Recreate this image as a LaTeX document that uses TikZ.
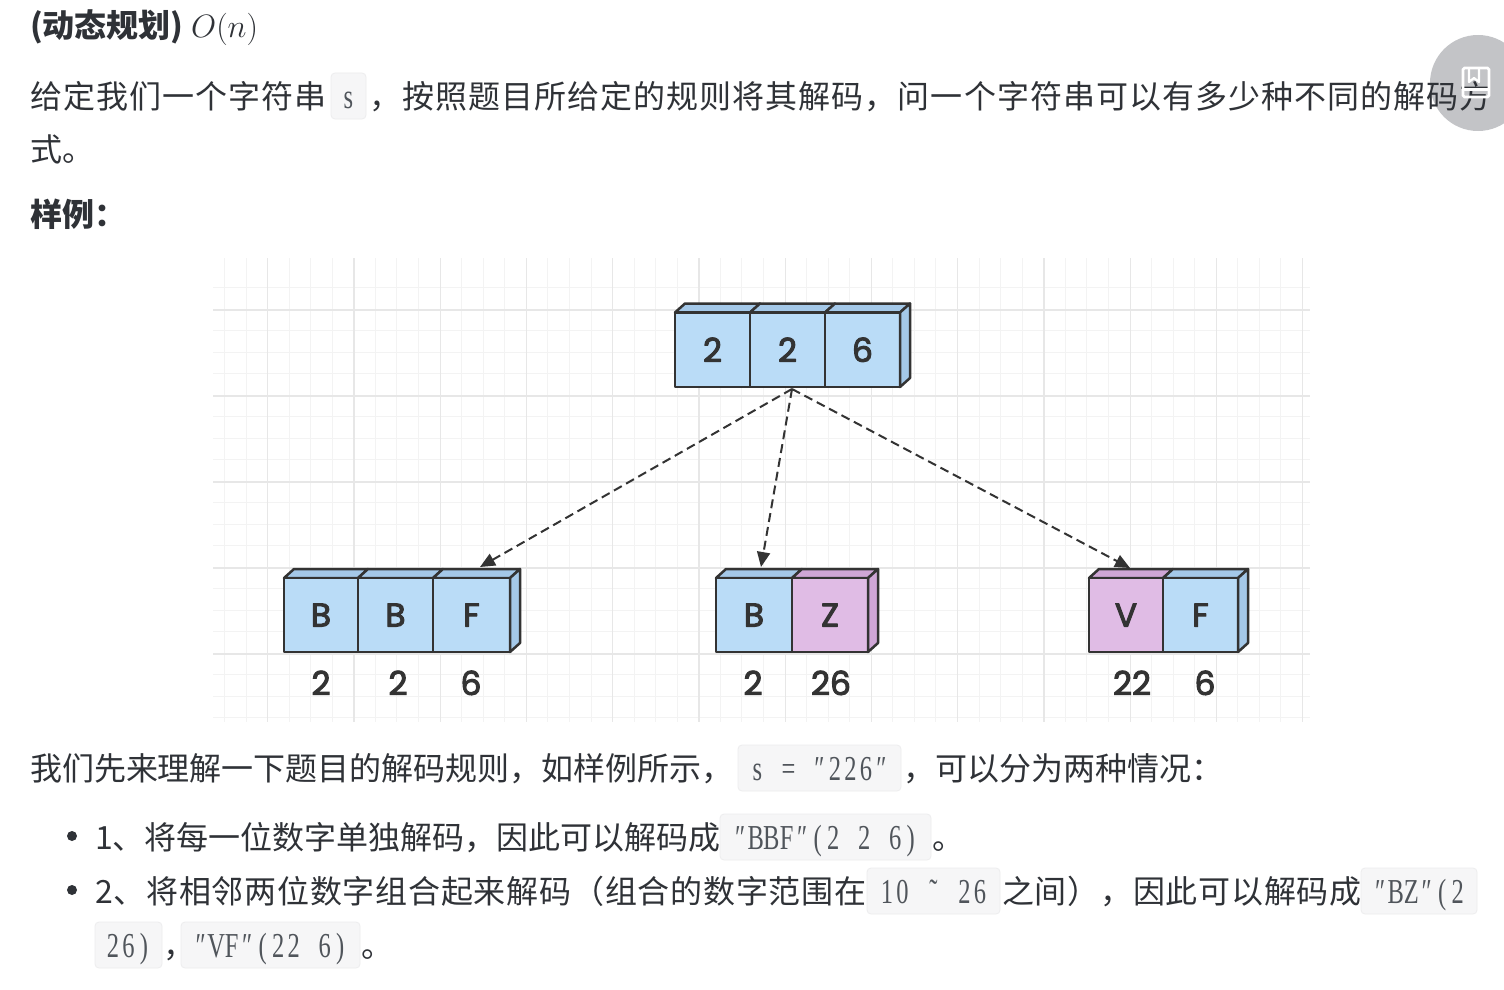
\documentclass[tikz,border=0pt]{standalone}
\usepackage{graphicx}
\usepackage{fontspec}
\setmainfont{Noto Sans CJK SC}
\newfontfamily\cjkls{Noto Sans CJK SC}[LetterSpace=3.3]
\newfontfamily\cjklsb{Noto Sans CJK SC}[LetterSpace=2.4]
\newfontfamily\codefont{Liberation Serif}[FakeStretch=0.7]
\newfontfamily\handfont{Poppins}[FakeBold=3]
\usetikzlibrary{arrows.meta}
\definecolor{txtc}{HTML}{2F3237}
\definecolor{codec}{HTML}{50555B}
\definecolor{codebg}{HTML}{F6F6F7}
\definecolor{codeline}{HTML}{EDEDEE}
\definecolor{blu}{HTML}{BADCF7}
\definecolor{bluD}{HTML}{A4C8E8}
\definecolor{pnk}{HTML}{E0BCE5}
\definecolor{pnkD}{HTML}{CFA6D6}
\definecolor{ink}{HTML}{333333}
\definecolor{gridminor}{HTML}{F3F3F3}
\definecolor{gridmajor}{HTML}{E7E7E7}
\definecolor{fab}{HTML}{C3C4C7}
\newcommand\m[1]{\makebox[15.5pt]{#1}}
\newcommand\ms{\hspace*{15.5pt}}
\tikzset{
  txt/.style={anchor=base west, inner sep=0pt, outer sep=0pt, text=txtc, font=\fontsize{32}{38}\selectfont},
  txtb/.style={txt, font=\bfseries\fontsize{32}{38}\selectfont},
  txtls/.style={txt, font=\cjkls\fontsize{32}{38}\selectfont},
  txtlsb/.style={txt, font=\cjklsb\fontsize{32}{38}\selectfont},
  codebox/.style={draw=codeline, fill=codebg, rounded corners=4pt, line width=0.8pt, inner sep=0pt},
  codetext/.style={anchor=base, inner sep=0pt, text=codec, font=\codefont\fontsize{35}{40}\selectfont},
  cell/.style={draw=ink, line width=2.5pt, inner sep=0pt, text=ink, font=\handfont\fontsize{33}{38}\selectfont, line join=round},
  face/.style={draw=ink, line width=2.5pt, line join=round},
  lbl/.style={anchor=base, inner sep=0pt, text=ink, font=\handfont\fontsize{33}{38}\selectfont},
  dasharrow/.style={draw=ink, line width=2pt, dash pattern=on 9pt off 5pt, -{Triangle[length=15pt,width=13pt]}},
  bulletdot/.style={circle, fill=txtc, inner sep=0pt, minimum size=10pt},
}
\newcommand\cbox[5]{%
  \node[codebox, minimum width={#3-#2}, minimum height=46pt] (#1) at ({(#2+#3)/2},{#4-12}) {};
  \node[codetext] (#1t) at ({(#2+#3)/2},#4) {#5};}
\newcommand\mkcell[8]{%
  \path[face, fill=#7] (#2,#4) -- (#2+10,#4-9) -- (#3+10,#4-9) -- (#3,#4) -- cycle;
  \node[cell, fill=#6, minimum width={#3-#2}, minimum height={#5-#4}] (#1) at ({(#2+#3)/2},{(#4+#5)/2}) {#8};}
\newcommand\mkside[4]{%
  \path[face, fill=#4] (#1,#2) -- (#1+10,#2-9) -- (#1+10,#3-9) -- (#1,#3) -- cycle;}
\begin{document}
\begin{tikzpicture}[x=1pt, y=-1pt]
\useasboundingbox (0,0) rectangle (1504,990);
\fill[white] (0,0) rectangle (1504,990);
% grid
\foreach \i in {0,...,50}{\pgfmathsetmacro\gx{224.5+21.56*\i}\draw[gridminor, line width=1pt] (\gx,258) -- (\gx,722);}
\foreach \j in {0,...,20}{\pgfmathsetmacro\gy{287.7+21.5*\j}\draw[gridminor, line width=1pt] (213,\gy) -- (1310,\gy);}
\foreach \i in {0,...,12}{\pgfmathsetmacro\gx{267.7+86.25*\i}\draw[gridmajor, line width=1.4pt] (\gx,258) -- (\gx,722);}
\foreach \j in {0,...,4}{\pgfmathsetmacro\gy{310+86*\j}\draw[gridmajor, line width=1.4pt] (213,\gy) -- (1310,\gy);}
% floating button
\fill[fab] (1478,83) circle[radius=48pt];
% text
\node[txtb] (title) at (30,38) {(动态规划)};
\node[anchor=base west, inner sep=0pt, text=txtc] (bigO) at (191,38) {\scalebox{1.3}{\fontsize{24.88}{30}\selectfont $O(n)$}};
\node[txtls] (l1a) at (30,108) {给定我们一个字符串};
\cbox{cs}{331}{366}{108}{\m{s}}
\node[txtls] (l1b) at (369,108) {，按照题目所给定的规则将其解码，问一个字符串可以有多少种不同的解码方};
\node[txt] (l2) at (30,161) {式。};
\node[txtb] (l3) at (30,226) {样例：};
\node[txt] (l4a) at (30,780) {我们先来理解一下题目的解码规则，如样例所示，};
\cbox{cs2}{738}{901}{780}{\m{s}\ms\m{=}\ms\m{″}\m{2}\m{2}\m{6}\m{″}}
\node[txt] (l4b) at (903,780) {，可以分为两种情况：};
\node[bulletdot] (d1) at (72,836) {};
\node[txt] (b1) at (95,849) {1、将每一位数字单独解码，因此可以解码成};
\cbox{cb1}{720}{931}{849}{\m{″}\m{B}\m{B}\m{F}\m{″}\m{(}\m{2}\ms\m{2}\ms\m{6}\m{)}}
\node[txt] (b1e) at (932,849) {。};
\node[bulletdot] (d2) at (72,890) {};
\node[txtlsb] (b2a) at (95,903) {2、将相邻两位数字组合起来解码（组合的数字范围在};
\cbox{cb2}{867}{1000}{903}{\m{1}\m{0}\ms\m{˜}\ms\m{2}\m{6}}
\node[txtlsb] (b2b) at (1002,903) {之间），因此可以解码成};
\cbox{cb3}{1361}{1477}{903}{\m{″}\m{B}\m{Z}\m{″}\m{(}\m{2}}
\cbox{cb4}{95}{162}{957}{\m{2}\m{6}\m{)}}
\node[txt] (b2c) at (163,957) {，};
\cbox{cb5}{181}{360}{957}{\m{″}\m{V}\m{F}\m{″}\m{(}\m{2}\m{2}\ms\m{6}\m{)}}
\node[txt] (b2d) at (361,957) {。};
% icon on button
\draw[white, line width=2.6pt, rounded corners=1.5pt] (1463,68) rectangle (1489,97);
\draw[white, line width=2.2pt, line join=round] (1469,68) -- (1469,82) -- (1474,78) -- (1479,82) -- (1479,68);
\draw[white, line width=3pt] (1463,89) -- (1489,89);
% top box
\mkcell{t1}{675}{750}{312.5}{387}{blu}{bluD}{2}
\mkcell{t2}{750}{825}{312.5}{387}{blu}{bluD}{2}
\mkcell{t3}{825}{900}{312.5}{387}{blu}{bluD}{6}
\mkside{900}{312.5}{387}{bluD}
% bottom left
\mkcell{L1}{284}{358}{578}{652}{blu}{bluD}{B}
\mkcell{L2}{358}{433}{578}{652}{blu}{bluD}{B}
\mkcell{L3}{433}{510}{578}{652}{blu}{bluD}{F}
\mkside{510}{578}{652}{bluD}
% bottom mid
\mkcell{M1}{716}{792}{578}{652}{blu}{bluD}{B}
\mkcell{M2}{792}{868}{578}{652}{pnk}{pnkD}{Z}
\mkside{868}{578}{652}{pnkD}
% bottom right
\mkcell{R1}{1089}{1163}{578}{652}{pnk}{pnkD}{V}
\mkcell{R2}{1163}{1238}{578}{652}{blu}{bluD}{F}
\mkside{1238}{578}{652}{bluD}
% labels
\node[lbl] (nL1) at (321,695) {2};
\node[lbl] (nL2) at (398,695) {2};
\node[lbl] (nL3) at (471,695) {6};
\node[lbl] (nM1) at (753,695) {2};
\node[lbl] (nM2) at (831,695) {26};
\node[lbl] (nR1) at (1132,695) {22};
\node[lbl] (nR2) at (1205,695) {6};
% arrows
\coordinate (src) at (792,389);
\coordinate (aL) at (480,567);
\coordinate (aM) at (761,567);
\coordinate (aR) at (1130,568);
\draw[dasharrow] (src) -- (aL);
\draw[dasharrow] (src) -- (aM);
\draw[dasharrow] (src) -- (aR);
\end{tikzpicture}
\end{document}
